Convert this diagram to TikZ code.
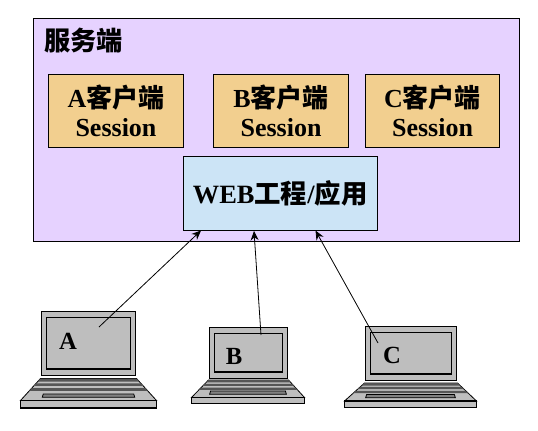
\documentclass[tikz,border=0pt]{standalone}
\usepackage{fontspec}
\setmainfont{Liberation Serif}
\newfontfamily\cjk{Noto Sans CJK SC}
\usetikzlibrary{arrows.meta}
\definecolor{srv}{HTML}{E6D2FF}
\definecolor{sess}{HTML}{F2CF8F}
\definecolor{web}{HTML}{CCE4F6}
\definecolor{lap}{HTML}{BEBEBE}
\definecolor{key}{HTML}{555555}
\tikzset{
  px/.style={x=0.75pt,y=-0.75pt},
  boxline/.style={draw=black,line width=0.75pt,outer sep=0pt},
  sessbox/.style={boxline,fill=sess,anchor=north west,inner sep=0pt,align=center,font=\fontsize{19.5}{23}\selectfont\bfseries,text=black},
  lapline/.style={draw=black,line width=0.85pt,fill=lap},
  keystrip/.style={fill=key},
  lablabel/.style={font=\fontsize{18.5}{22}\selectfont\bfseries,inner sep=0pt,anchor=center},
  conn/.style={draw=black,line width=0.6pt,-{Stealth[length=7pt,width=6pt]}}
}
% #1 screen left, #2 screen top, #3 screen right, #4 screen bottom, #5 base left, #6 base right, #7 base top, #8 base bottom, #9 keyboard top
\newcommand{\laptopshape}[9]{
  \draw[lapline,line width=0.6pt] ({#1-1},#9) -- ({#3+1},#9) -- (#6,#7) -- (#5,#7) -- cycle;
  \pgfmathsetmacro{\kh}{(#7-#9)}
  \pgfmathsetmacro{\tl}{#1-1}
  \pgfmathsetmacro{\tr}{#3+1}
  \pgfmathsetmacro{\sl}{(#5-\tl)/\kh}
  \pgfmathsetmacro{\sr}{(#6-\tr)/\kh}
  \foreach \fa/\fb in {0/0.14,0.22/0.34,0.44/0.56}{
    \fill[keystrip] ({\tl+\fa*\kh*\sl},{#9+\fa*\kh}) -- ({\tr+\fa*\kh*\sr},{#9+\fa*\kh}) -- ({\tr+\fb*\kh*\sr},{#9+\fb*\kh}) -- ({\tl+\fb*\kh*\sl},{#9+\fb*\kh}) -- cycle;
  }
  \pgfmathsetmacro{\mx}{(#5+#6)/2}
  \pgfmathsetmacro{\pw}{(#6-#5)*0.34}
  \draw[lapline,line width=0.6pt,fill=key!75] ({\mx-\pw},{#7-3.2}) -- ({\mx+\pw},{#7-3.2}) -- ({\mx+\pw-1},{#7-6.5}) -- ({\mx-\pw+1},{#7-6.5}) -- cycle;
  \draw[lapline] (#5,#7) rectangle (#6,#8);
  \draw[lapline] (#1,#2) rectangle (#3,#4);
  \draw[lapline] ({#1+5},{#2+6}) rectangle ({#3-5},{#4-6.5});
}
\begin{document}
\begin{tikzpicture}[px]
\useasboundingbox (0,0) rectangle (538,430);
\fill[white] (0,0) rectangle (538,430);
\node[boxline,fill=srv,anchor=north west,inner sep=0pt,minimum width=485.5*0.75pt,minimum height=222.5*0.75pt] (server) at (33.5,18.5) {};
\node[anchor=west,inner sep=0pt,font=\fontsize{19.7}{22}\selectfont\bfseries\cjk] (title) at (44,41) {服务端};
\node[sessbox,minimum width=135*0.75pt,minimum height=73*0.75pt] (sa) at (48.5,74.5) {A{\cjk 客户端}\\[-1.5pt]Session};
\node[sessbox,minimum width=135*0.75pt,minimum height=73*0.75pt] (sb) at (213.5,74.5) {B{\cjk 客户端}\\[-1.5pt]Session};
\node[sessbox,minimum width=134*0.75pt,minimum height=73*0.75pt] (sc) at (365.5,74.5) {C{\cjk 客户端}\\[-1.5pt]Session};
\node[boxline,fill=web,anchor=north west,inner sep=0pt,minimum width=193.5*0.75pt,minimum height=74*0.75pt,font=\fontsize{19.8}{25}\selectfont\bfseries,text=black] (webapp) at (183.5,156.5) {WEB{\cjk 工程}/{\cjk 应用}};

\laptopshape{41.5}{311.5}{135.5}{375.5}{20.5}{156.5}{400.5}{408}{378.5}
\laptopshape{209.5}{327.5}{287.5}{378.5}{191.5}{304.5}{397.5}{403.5}{380}
\laptopshape{365.5}{326.5}{456.5}{380.5}{344.5}{476.5}{401}{407.5}{383}

\node[lablabel] (la) at (68,341) {A};
\node[lablabel] (lb) at (234,356) {B};
\node[lablabel] (lc) at (392,355) {C};

\coordinate (fa) at (99,327);
\coordinate (fb) at (261,335);
\coordinate (fc) at (378,343);
\coordinate (ta) at (201,230.5);
\coordinate (tb) at (254,231);
\coordinate (tc) at (315.5,230.5);
\draw[conn] (fa) -- (ta);
\draw[conn] (fb) -- (tb);
\draw[conn] (fc) -- (tc);
\end{tikzpicture}
\end{document}
